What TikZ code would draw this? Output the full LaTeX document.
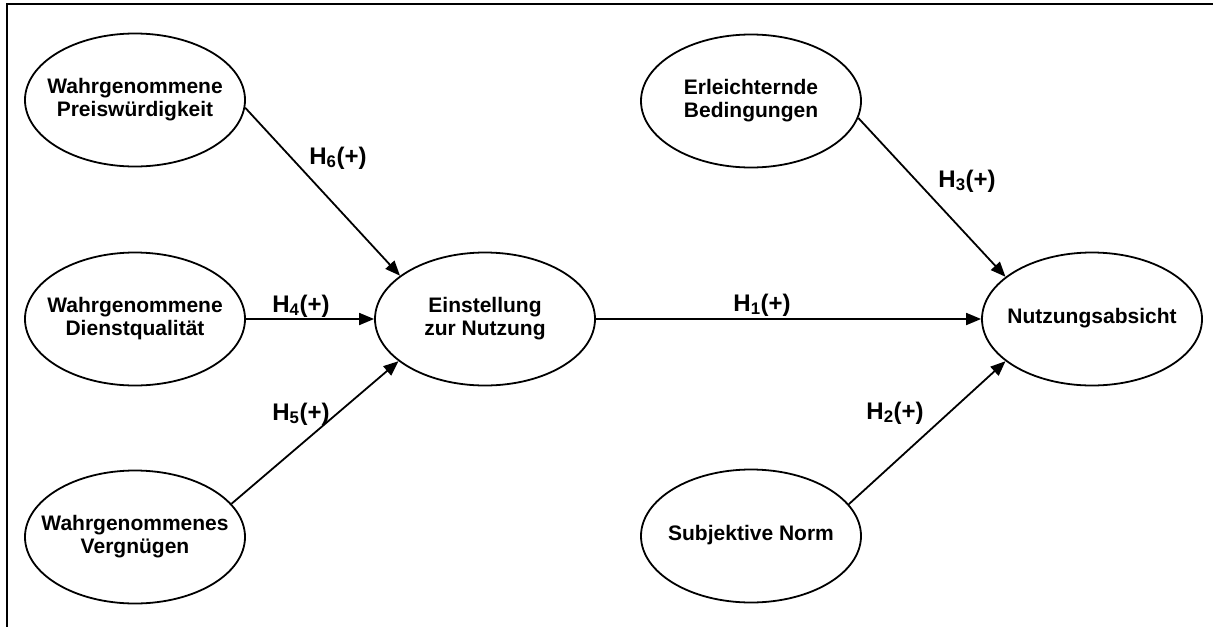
\documentclass[tikz,border=0pt]{standalone}
\usepackage{fontspec}
\setmainfont{Liberation Sans}
\usetikzlibrary{shapes.geometric,arrows.meta}
\newcommand{\ctxt}[1]{\makebox[0pt]{\begin{tabular}{@{}c@{}}#1\end{tabular}}}
\begin{document}
\begin{tikzpicture}[x=1pt,y=-1pt,
  construct/.style={ellipse,draw,line width=1.8pt,minimum width=220pt,minimum height=133pt,inner sep=0pt,
    font=\fontsize{21}{23}\selectfont\bfseries},
  hyp/.style={font=\fontsize{24}{28}\selectfont\bfseries,inner sep=0pt},
  link/.style={line width=1.8pt,-{Triangle[length=15pt,width=12pt]}}]
\useasboundingbox (0,0) rectangle (1213,627);
\draw[line width=2pt] (1213,4) -- (7,4) -- (7,627);
\node[construct] (preis) at (135,100) {\ctxt{Wahrgenommene\\Preiswürdigkeit}};
\node[construct] (dienst) at (135,319) {\ctxt{Wahrgenommene\\Dienstqualität}};
\node[construct] (vergn) at (135,537) {\ctxt{Wahrgenommenes\\Vergnügen}};
\node[construct] (einst) at (485,319) {\ctxt{Einstellung\\zur Nutzung}};
\node[construct] (erleicht) at (751,101) {\ctxt{Erleichternde\\Bedingungen}};
\node[construct] (nutz) at (1092,319) {\ctxt{Nutzungsabsicht}};
\node[construct] (subj) at (751,536) {\ctxt{Subjektive Norm}};
\draw[link] (preis.-4) -- (einst.153);
\draw[link] (dienst.east) -- (einst.west);
\draw[link] (vergn.19) -- (einst.206);
\draw[link] (einst.east) -- (nutz.west);
\draw[link] (erleicht.-9) -- (nutz.154);
\draw[link] (subj.18) -- (nutz.206);
\node[hyp] (h6) at (338,158) {H\textsubscript{6}(+)};
\node[hyp] (h4) at (301,306) {H\textsubscript{4}(+)};
\node[hyp] (h5) at (301,414) {H\textsubscript{5}(+)};
\node[hyp] (h1) at (762,305) {H\textsubscript{1}(+)};
\node[hyp] (h3) at (967,181) {H\textsubscript{3}(+)};
\node[hyp] (h2) at (895,413) {H\textsubscript{2}(+)};
\end{tikzpicture}
\end{document}
